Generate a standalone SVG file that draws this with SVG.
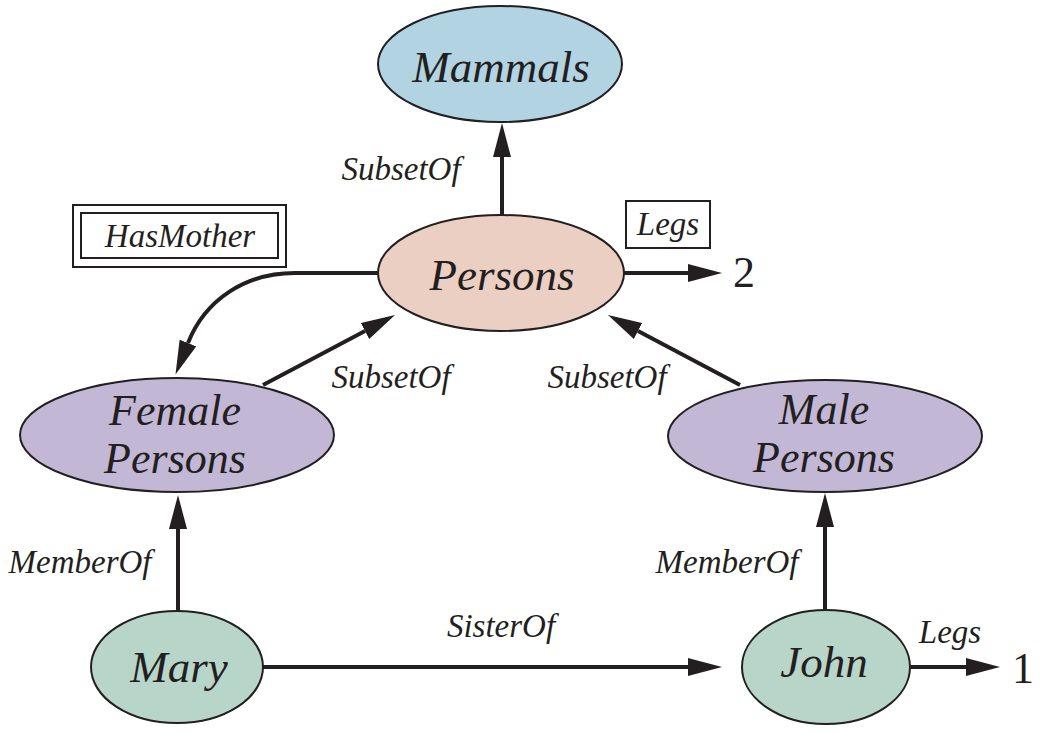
<svg xmlns="http://www.w3.org/2000/svg" width="1042" height="733" viewBox="0 0 1042 733">
<style>
.node{stroke:#231f20;stroke-width:2}
.nt{font-family:"Liberation Serif",serif;font-style:italic;font-size:45px;fill:#231f20;text-anchor:middle}
.nt2{font-family:"Liberation Serif",serif;font-style:italic;font-size:44px;fill:#231f20;text-anchor:middle}
.lb{font-family:"Liberation Serif",serif;font-style:italic;font-size:33px;fill:#231f20;text-anchor:middle}
.num{font-family:"Liberation Serif",serif;font-size:44px;fill:#231f20;text-anchor:middle}
.edge{stroke:#231f20;stroke-width:4;fill:none;marker-end:url(#ah)}
.box{fill:#fff;stroke:#231f20;stroke-width:2}
</style>
<defs>
<marker id="ah" markerUnits="userSpaceOnUse" markerWidth="34" markerHeight="18" viewBox="0 0 34 18" refX="0" refY="9" orient="auto">
<path d="M0,0 L34,9 L0,18 Z" fill="#231f20"/>
</marker>
</defs>
<rect width="1042" height="733" fill="#fff"/>
<g id="connectors">
<path class="edge" d="M502,215 L502,157"/>
<path class="edge" d="M624,273 L688,273"/>
<path class="edge" d="M263,385 L365,331"/>
<path class="edge" d="M740,385 L638,331"/>
<path class="edge" d="M178,611 L178,529"/>
<path class="edge" d="M825,610 L825,527"/>
<path class="edge" d="M263,667 L688,667"/>
<path class="edge" d="M910,667 L966,667"/>
<path class="edge" d="M378,273 L295,273 C245,273 205,300 188,343"/>
<text class="lb" x="401" y="180">SubsetOf</text>
<text class="lb" x="391" y="388">SubsetOf</text>
<text class="lb" x="607" y="388">SubsetOf</text>
<text class="lb" x="80" y="573">MemberOf</text>
<text class="lb" x="727" y="573">MemberOf</text>
<text class="lb" x="501" y="637">SisterOf</text>
<text class="lb" x="950" y="643">Legs</text>
<text class="num" x="744" y="287">2</text>
<text class="num" x="1023" y="683">1</text>
</g>
<g id="hasmother">
<rect class="box" x="73" y="205" width="213" height="62"/>
<rect class="box" x="81" y="213" width="197" height="45"/>
<text class="lb" x="180" y="247">HasMother</text>
</g>
<g id="legsbox">
<rect class="box" x="626" y="201" width="84" height="47"/>
<text class="lb" x="668" y="235">Legs</text>
</g>
<g id="mammals">
<ellipse class="node" cx="500" cy="64" rx="122" ry="58" fill="#b1d3e2"/>
<text class="nt" x="501" y="82">Mammals</text>
</g>
<g id="persons">
<ellipse class="node" cx="501" cy="273" rx="123" ry="58" fill="#ebcfc2"/>
<text class="nt" x="502" y="290">Persons</text>
</g>
<g id="female">
<ellipse class="node" cx="177" cy="435" rx="157" ry="57" fill="#c2b8d6"/>
<text class="nt2" x="175" y="425">Female</text>
<text class="nt2" x="175" y="473">Persons</text>
</g>
<g id="male">
<ellipse class="node" cx="825" cy="436" rx="157" ry="56" fill="#c2b8d6"/>
<text class="nt2" x="824" y="424">Male</text>
<text class="nt2" x="824" y="472">Persons</text>
</g>
<g id="mary">
<ellipse class="node" cx="177" cy="667" rx="86" ry="56" fill="#b8d5ca"/>
<text class="nt" x="179" y="682">Mary</text>
</g>
<g id="john">
<ellipse class="node" cx="826" cy="667" rx="84" ry="57" fill="#b8d5ca"/>
<text class="nt" x="824" y="677">John</text>
</g>
</svg>
